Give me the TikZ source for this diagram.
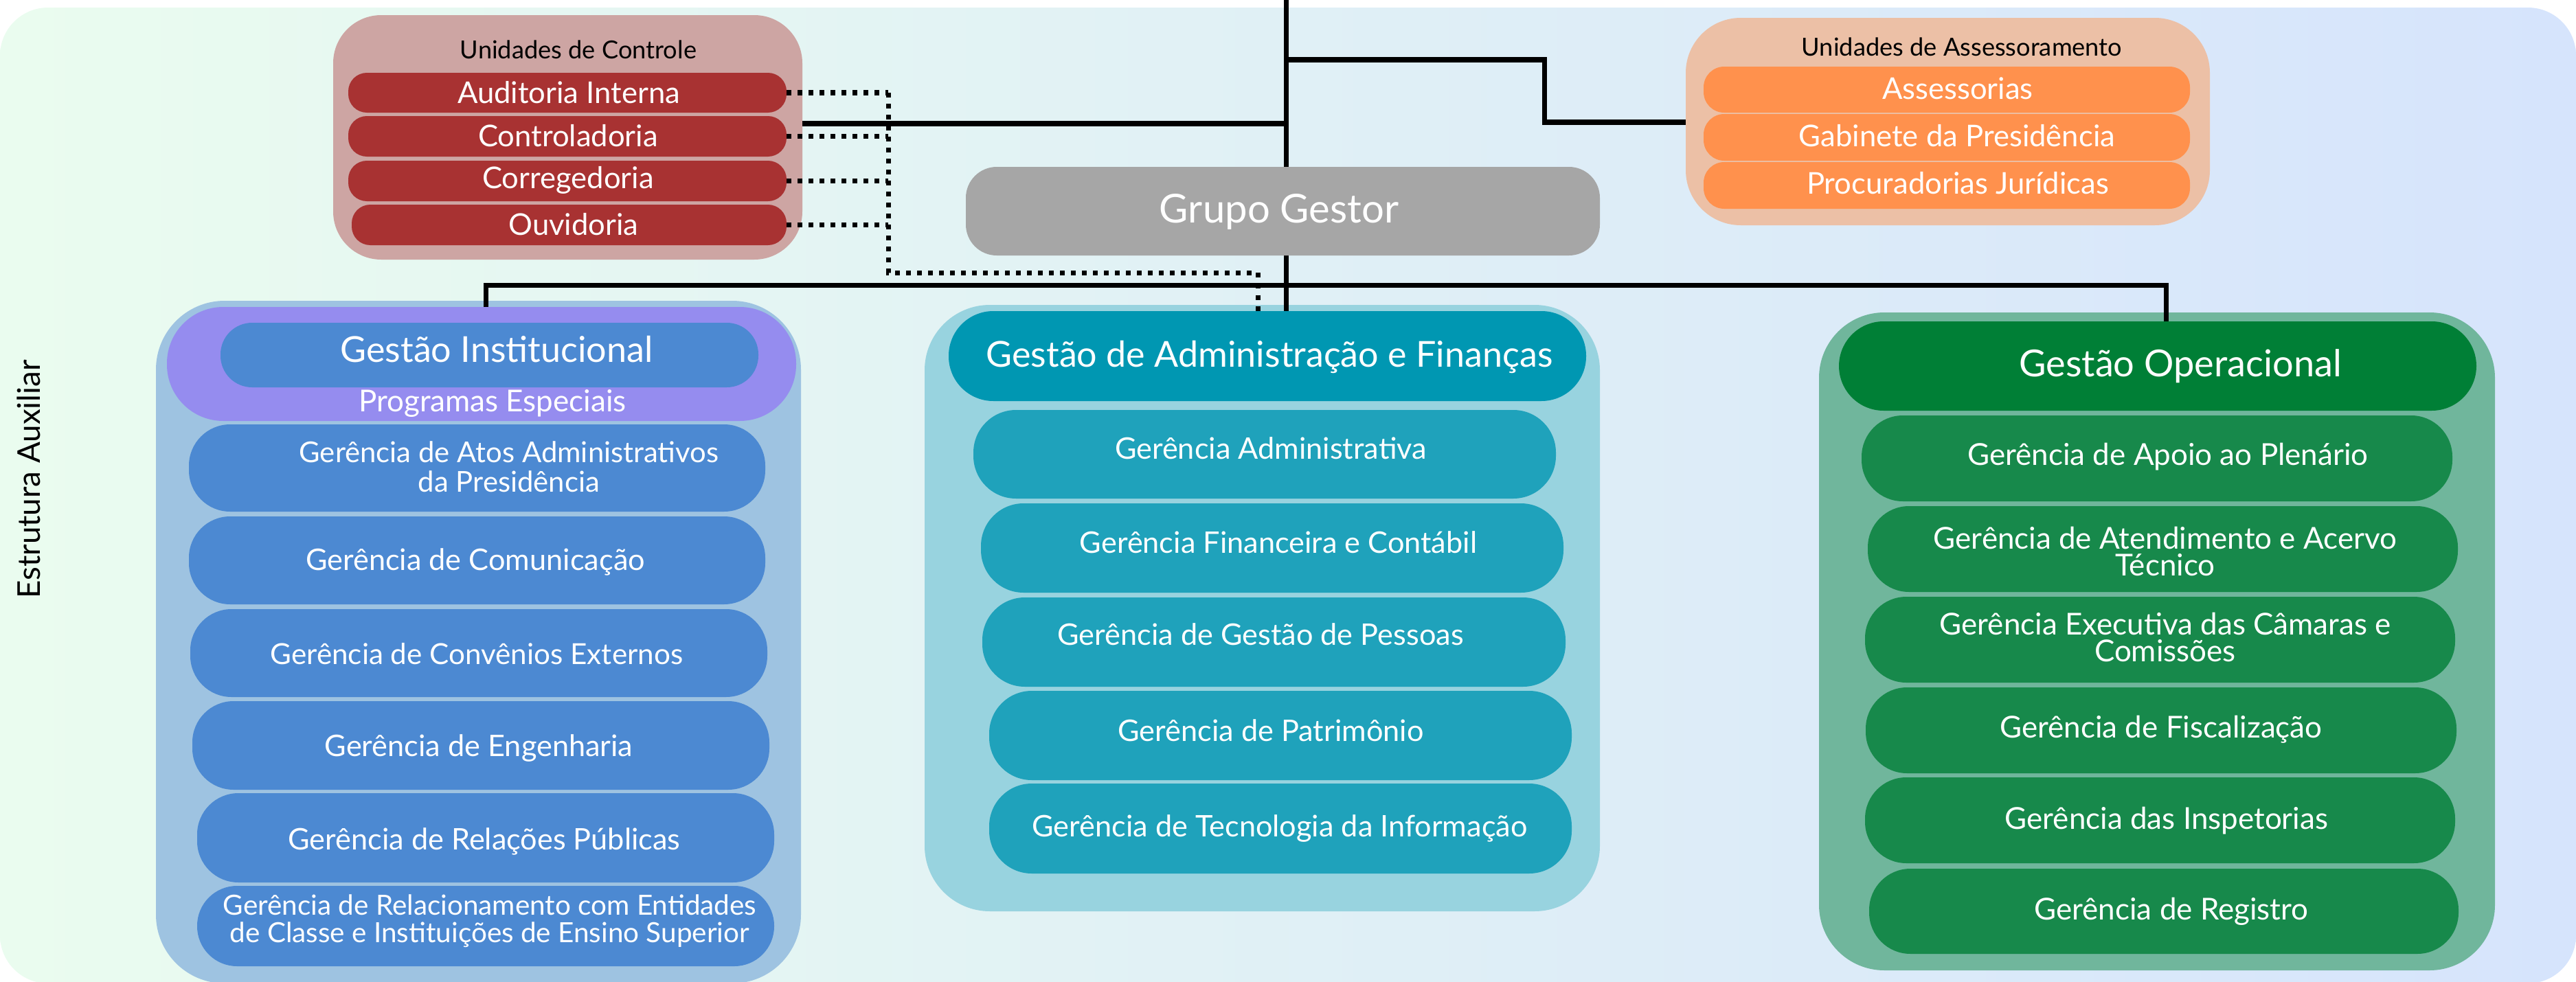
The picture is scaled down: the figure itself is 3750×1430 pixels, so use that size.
\documentclass[tikz,border=0pt]{standalone}
\usepackage{fontspec}
\setmainfont{Lato}
\usetikzlibrary{fit}
\definecolor{cBgL}{HTML}{EAFCEF}
\definecolor{cBgR}{HTML}{D6E4FC}
\definecolor{cCtrlBg}{HTML}{CDA5A3}
\definecolor{cRed}{HTML}{A83232}
\definecolor{cAssBg}{HTML}{ECC0A6}
\definecolor{cOrange}{HTML}{FF914D}
\definecolor{cGray}{HTML}{A6A6A6}
\definecolor{cInstBg}{HTML}{9EC3E1}
\definecolor{cPurple}{HTML}{958CEF}
\definecolor{cBlue}{HTML}{4C89D2}
\definecolor{cAdmBg}{HTML}{98D3DF}
\definecolor{cAdmH}{HTML}{0097B2}
\definecolor{cTeal}{HTML}{1FA2BB}
\definecolor{cOpBg}{HTML}{70B69C}
\definecolor{cOpH}{HTML}{007F36}
\definecolor{cGreen}{HTML}{17894B}
\newcommand{\bx}[6]{\node[#2, fit={(#3,#4) (#5,#6)}] (#1) {};}
\tikzset{
  every node/.style={inner sep=0pt, outer sep=0pt},
  ctrlbox/.style={fill=cCtrlBg, rounded corners=0.7cm},
  redbox/.style={fill=cRed, rounded corners=0.27cm},
  assbox/.style={fill=cAssBg, rounded corners=0.8cm},
  orangebox/.style={fill=cOrange, rounded corners=0.3cm},
  graybox/.style={fill=cGray, rounded corners=0.45cm},
  instbox/.style={fill=cInstBg, rounded corners=1.0cm},
  purplebox/.style={fill=cPurple, rounded corners=0.82cm},
  bluebox/.style={fill=cBlue, rounded corners=0.6cm},
  admbox/.style={fill=cAdmBg, rounded corners=0.95cm},
  admhead/.style={fill=cAdmH, rounded corners=0.65cm},
  tealbox/.style={fill=cTeal, rounded corners=0.62cm},
  opbox/.style={fill=cOpBg, rounded corners=0.95cm},
  ophead/.style={fill=cOpH, rounded corners=0.65cm},
  greenbox/.style={fill=cGreen, rounded corners=0.6cm},
  rowtxt/.style={text=white, align=center, font=\fontsize{12.3}{12.2}\selectfont},
  grtxt/.style={text=white, align=center, font=\fontsize{12.5}{11.1}\selectfont},
  headtxt/.style={text=white, font=\fontsize{15.4}{18}\selectfont},
  smalltxt/.style={text=white, font=\fontsize{12.4}{14}\selectfont},
  titletxt/.style={text=black, font=\fontsize{10.3}{12}\selectfont},
  conn/.style={draw=black, line width=0.07cm},
  dotconn/.style={draw=black, line width=0.07cm, dash pattern=on 0.07cm off 0.09cm}
}
\begin{document}
\begin{tikzpicture}[x=0.01cm, y=-0.01cm]
\useasboundingbox (0,0) rectangle (3750,1430);
\shade[left color=cBgL, right color=cBgR, rounded corners=0.7cm] (0,11) rectangle (3750,1432);

\node[rotate=90, text=black, font=\fontsize{13}{15}\selectfont] (estr) at (42,698) {Estrutura Auxiliar};

% Unidades de Controle
\bx{ctrl}{ctrlbox}{485}{22}{1168}{378}
\node[titletxt] (ctrlt) at (842,72) {Unidades de Controle};
\bx{aud}{redbox}{507}{106}{1145}{164}
\bx{con}{redbox}{507}{169}{1145}{228}
\bx{cor}{redbox}{507}{234}{1145}{293}
\bx{ouv}{redbox}{512}{298}{1145}{357}
\node[smalltxt] (audt) at (828,135) {Auditoria Interna};
\node[smalltxt] (cont) at (827,198) {Controladoria};
\node[smalltxt] (cort) at (827,262) {Corregedoria};
\node[smalltxt] (ouvt) at (835,327) {Ouvidoria};

% Unidades de Assessoramento
\bx{ass}{assbox}{2454}{26}{3217}{328}
\node[titletxt] (asst) at (2856,68) {Unidades de Assessoramento};
\bx{asr}{orangebox}{2480}{97}{3188}{164}
\bx{gab}{orangebox}{2480}{166}{3188}{234}
\bx{pro}{orangebox}{2480}{236}{3188}{304}
\node[smalltxt] (asrt) at (2850,129) {Assessorias};
\node[smalltxt] (gabt) at (2849,198) {Gabinete da Presidência};
\node[smalltxt] (prot) at (2850,267) {Procuradorias Jurídicas};

% Gestao Institucional
\bx{inst}{instbox}{227}{438}{1166}{1432}
\bx{prog}{purplebox}{243}{447}{1159}{613}
\bx{instH}{bluebox, rounded corners=0.46cm}{321}{470}{1104}{564}
\node[headtxt, font=\fontsize{14.8}{18}\selectfont] (instHt) at (723,509) {Gestão Institucional};
\node[text=white, font=\fontsize{12.5}{14}\selectfont] (progt) at (717,587) {Programas Especiais};
\bx{atos}{bluebox}{275}{618}{1114}{745}
\bx{com}{bluebox}{275}{752}{1114}{880}
\bx{conv}{bluebox}{277}{887}{1117}{1015}
\bx{eng}{bluebox}{280}{1021}{1120}{1150}
\bx{rel}{bluebox}{287}{1155}{1127}{1285}
\bx{relc}{bluebox, rounded corners=0.58cm}{287}{1290}{1127}{1407}
\node[rowtxt, font=\fontsize{11.9}{12.2}\selectfont] (atost) at (741,680) {Gerência de Atos Administrativos\\da Presidência};
\node[rowtxt] (comt) at (692,818) {Gerência de Comunicação};
\node[rowtxt, font=\fontsize{12}{12.2}\selectfont] (convt) at (694,952) {Gerência de Convênios Externos};
\node[rowtxt] (engt) at (697,1090) {Gerência de Engenharia};
\node[rowtxt] (relt) at (705,1225) {Gerência de Relações Públicas};
\node[rowtxt, font=\fontsize{11.5}{11.3}\selectfont] (relct) at (713,1341) {Gerência de Relacionamento com Entidades\\de Classe e Instituições de Ensino Superior};

% Gestao de Administracao e Financas
\bx{adm}{admbox}{1346}{444}{2329}{1327}
\bx{admH}{admhead}{1381}{453}{2309}{584}
\node[headtxt, font=\fontsize{14.8}{18}\selectfont] (admHt) at (1848,520) {Gestão de Administração e Finanças};
\bx{ga}{tealbox}{1417}{597}{2265}{726}
\bx{gf}{tealbox}{1428}{733}{2276}{863}
\bx{gp}{tealbox}{1430}{870}{2279}{1000}
\bx{gpat}{tealbox}{1440}{1006}{2288}{1136}
\bx{gti}{tealbox}{1440}{1141}{2288}{1272}
\node[rowtxt] (gat) at (1850,653) {Gerência Administrativa};
\node[rowtxt] (gft) at (1861,790) {Gerência Financeira e Contábil};
\node[rowtxt] (gpt) at (1835,924) {Gerência de Gestão de Pessoas};
\node[rowtxt] (gpatt) at (1850,1064) {Gerência de Patrimônio};
\node[rowtxt] (gtit) at (1863,1207) {Gerência de Tecnologia da Informação};

% Gestao Operacional
\bx{op}{opbox}{2648}{455}{3632}{1413}
\bx{opH}{ophead}{2677}{468}{3605}{598}
\node[headtxt] (opHt) at (3174,533) {Gestão Operacional};
\bx{apo}{greenbox}{2710}{605}{3570}{730}
\bx{ate}{greenbox}{2719}{737}{3578}{862}
\bx{exe}{greenbox}{2715}{869}{3574}{994}
\bx{fis}{greenbox}{2716}{1001}{3576}{1126}
\bx{ins}{greenbox}{2715}{1132}{3574}{1257}
\bx{reg}{greenbox}{2721}{1265}{3579}{1389}
\node[grtxt] (apot) at (3156,665) {Gerência de Apoio ao Plenário};
\node[grtxt] (atet) at (3152,803) {Gerência de Atendimento e Acervo\\Técnico};
\node[grtxt] (exet) at (3152,928) {Gerência Executiva das Câmaras e\\Comissões};
\node[grtxt] (fist) at (3146,1062) {Gerência de Fiscalização};
\node[grtxt] (inst) at (3154,1195) {Gerência das Inspetorias};
\node[grtxt] (regt) at (3161,1327) {Gerência de Registro};

% connectors
\coordinate (top) at (1872,0);
\coordinate (cj) at (1872,180);
\coordinate (aj) at (1872,87);
\coordinate (aj2) at (2248,178);
\coordinate (bl) at (707,415);
\coordinate (br) at (3153,415);
\coordinate (dv) at (1293,397);
\coordinate (dx) at (1831,397);
\draw[conn] (top) -- (top |- admH.north);
\draw[conn] (cj -| ctrl.east) -- (cj);
\draw[conn] (aj) -| (aj2) -- (aj2 -| ass.west);
\draw[conn] (bl |- prog.north) -- (bl) -- (br) -- (br |- opH.north);
\draw[dotconn] (aud.east) -- (aud.east -| dv);
\draw[dotconn] (con.east) -- (con.east -| dv);
\draw[dotconn] (cor.east) -- (cor.east -| dv);
\draw[dotconn] (ouv.east) -- (ouv.east -| dv);
\draw[dotconn] (aud.east -| dv) -- (dv) -- (dx) -- (dx |- admH.north);

% Grupo Gestor (covers the trunk line)
\bx{gg}{graybox}{1406}{243}{2329}{372}
\node[text=white, font=\fontsize{16.5}{20}\selectfont] (ggt) at (1862,308) {Grupo Gestor};
\end{tikzpicture}
\end{document}
